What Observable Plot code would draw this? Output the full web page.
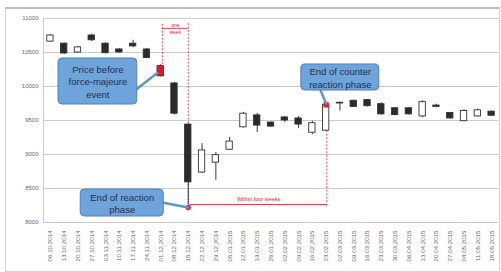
<!DOCTYPE html>
<html><head><meta charset="utf-8">
<script src="https://cdn.jsdelivr.net/npm/d3@7"></script>
<script src="https://cdn.jsdelivr.net/npm/@observablehq/plot@0.6"></script>
<style>
body{margin:0;background:#fff;}
#wrap{position:relative;width:501px;height:272px;overflow:hidden;}
#wrap svg{position:absolute;left:0;top:0;}
#border{position:absolute;left:5px;top:7px;width:493px;height:262px;border:1px solid #d4d4d4;border-top:2px solid #bcbcbc;pointer-events:none;}
</style></head><body><div id="wrap"><div id="border"></div></div>
<script>
// ---- data (weekly candles) ----
const dates = ["06.10.2014","13.10.2014","20.10.2014","27.10.2014","03.11.2014","10.11.2014","17.11.2014","24.11.2014","01.12.2014","08.12.2014","15.12.2014","22.12.2014","29.12.2014","05.01.2015","12.01.2015","19.01.2015","26.01.2015","02.02.2015","09.02.2015","16.02.2015","23.02.2015","02.03.2015","09.03.2015","16.03.2015","23.03.2015","30.03.2015","06.04.2015","13.04.2015","20.04.2015","27.04.2015","04.05.2015","11.05.2015","18.05.2015"];
const open  = [10660,10630,10500,10750,10630,10545,10630,10545,10300,10045,9440,8735,8880,9070,9400,9575,9470,9545,9530,9320,9350,9760,9790,9800,9740,9680,9680,9560,9720,9610,9490,9560,9630];
const close = [10750,10485,10575,10680,10490,10500,10590,10420,10150,9600,8590,9060,8990,9190,9600,9425,9410,9500,9440,9460,9730,9750,9700,9710,9590,9580,9590,9770,9700,9530,9640,9650,9570];
const high  = [10760,10640,10590,10770,10640,10560,10680,10560,10320,10060,9450,9160,9030,9250,9620,9605,9480,9560,9560,9490,9760,9770,9800,9810,9760,9690,9690,9790,9740,9620,9660,9670,9640];
const low   = [10650,10470,10490,10660,10480,10490,10570,10410,10140,9580,8220,8720,8620,9060,9390,9325,9400,9470,9380,9290,9340,9640,9690,9700,9580,9570,9580,9540,9690,9520,9480,9550,9560];
const yTicks = [8000,8500,9000,9500,10000,10500,11000];
const eventWeek = 8;          // "price before force-majeure event"
const reactionEndWeek = 10;   // low of the reaction phase
const counterEndWeek = 20;    // end of counter reaction phase

// ---- annotations (data coordinates) ----
const calloutText = ["Price before\nforce-majeure\nevent","End of counter\nreaction phase","End of reaction\nphase"];
const calloutX1 = [0.59, 18.2, 2.2];
const calloutX2 = [6.3, 23.85, 8.22];
const calloutY1 = [9735, 9941, 8088];
const calloutY2 = [10412, 10324, 8485];
const pointerFromX = [6.25, 19.6, 8.2];
const pointerFromY = [9960, 9941, 8290];
const pointerToX = [7.75, 20, 10];
const pointerToY = [10200, 9750, 8220];

const candles = dates.map((d, i) => ({i, date: d, open: open[i], close: close[i], high: high[i], low: low[i]}));
const callouts = calloutText.map((t, k) => ({t, x1: calloutX1[k], x2: calloutX2[k], y1: calloutY1[k], y2: calloutY2[k],
  fx: pointerFromX[k], fy: pointerFromY[k], tx: pointerToX[k], ty: pointerToY[k]}));

const red = "#e3192f";
const bodyFill = d => d.i === eventWeek ? red : (d.close < d.open ? "#2b2b2b" : "#ffffff");

const chart = Plot.plot({
  width: 501, height: 272,
  marginLeft: 43, marginRight: 3, marginTop: 18, marginBottom: 50,
  style: {fontFamily: "Liberation Sans, Arial, sans-serif", background: "transparent"},
  x: {type: "linear", domain: [-0.5, dates.length - 0.5]},
  y: {domain: [8000, 11000]},
  marks: [
    Plot.gridY(yTicks, {stroke: "#cccccc", strokeOpacity: 1, strokeWidth: 1}),
    Plot.ruleX([-0.5], {stroke: "#cccccc"}),
    Plot.axisY(yTicks, {tickSize: 0, tickPadding: 5, fontSize: 6, fill: "#6a6a6a", tickFormat: d => String(d)}),
    Plot.axisX(candles.map(d => d.i), {tickFormat: i => dates[i], tickRotate: -90, tickSize: 0, tickPadding: 8, fontSize: 6.2, fill: "#6a6a6a"}),
    // red annotation lines
    Plot.ruleX([8.12], {y1: 10320, y2: 10930, stroke: red, strokeOpacity: 0.8, strokeDasharray: "2,1.5"}),
    Plot.ruleX([reactionEndWeek], {y1: 8220, y2: 10930, stroke: red, strokeOpacity: 0.8, strokeDasharray: "2,1.5"}),
    Plot.ruleY([10855], {x1: 8.12, x2: reactionEndWeek, stroke: red, strokeOpacity: 0.8}),
    Plot.text(["one", "week"], {x: 9.06, y: (d, i) => [10905, 10790][i], text: d => d, fill: red, fontSize: 5}),
    Plot.ruleY([8265], {x1: reactionEndWeek, x2: 20.05, stroke: red, strokeOpacity: 0.85}),
    Plot.ruleX([20.05], {y1: 8240, y2: 9750, stroke: red, strokeOpacity: 0.8, strokeDasharray: "2,1.5"}),
    Plot.text(["Within four weeks"], {x: 15.1, y: 8345, fill: red, fontSize: 5.5}),
    // candles
    Plot.ruleX(candles, {x: "i", y1: "low", y2: "high", stroke: "#3a3a3a", strokeWidth: 1}),
    Plot.rect(candles, {x1: d => d.i - 0.23, x2: d => d.i + 0.23, y1: "open", y2: "close", fill: bodyFill, stroke: "#333", strokeWidth: 0.9}),
    Plot.dot([candles[reactionEndWeek]], {x: "i", y: "low", r: 3, fill: red, stroke: "#fff", strokeWidth: 0.5}),
    Plot.dot([candles[counterEndWeek]], {x: "i", y: "close", symbol: "square", r: 3, fill: red}),
    // callouts
    Plot.link(callouts, {x1: "fx", y1: "fy", x2: "tx", y2: "ty", stroke: "#5f94cc", strokeWidth: 2.5, strokeLinecap: "round"}),
    Plot.rect(callouts, {x1: "x1", x2: "x2", y1: "y1", y2: "y2", fill: "#6ea4da", stroke: "#4d82bf", strokeWidth: 1, rx: 4}),
    Plot.text(callouts, {x: d => (d.x1 + d.x2) / 2, y: d => (d.y1 + d.y2) / 2, text: "t", fill: "#1d2f52", fontSize: 9.5, lineHeight: 1.3})
  ]
});
document.getElementById("wrap").appendChild(chart);
</script></body></html>
